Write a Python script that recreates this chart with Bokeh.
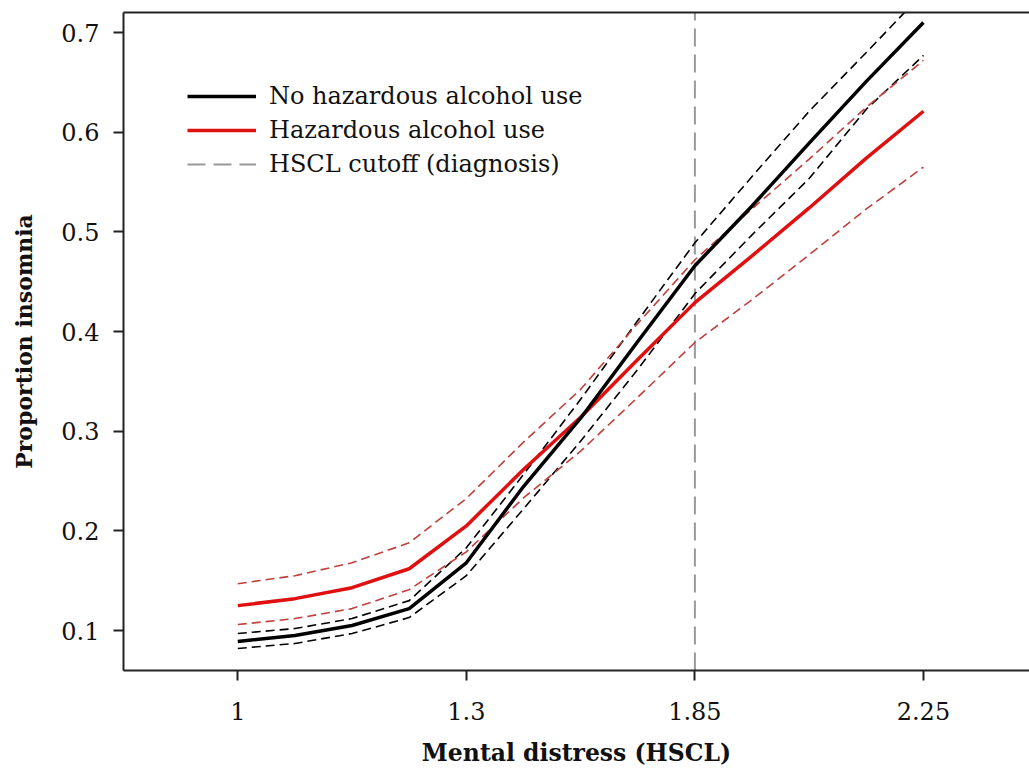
from bokeh.plotting import figure
from bokeh.models import Range1d, LinearAxis, FixedTicker, Legend, LegendItem
from bokeh.embed import file_html
from bokeh.resources import INLINE

# ---- data ----
tick_labels = ["1", "1.3", "1.85", "2.25"]      # HSCL tick labels (equally spaced on axis)
tick_pos = [0, 1, 2, 3]
cutoff_label = "1.85"

x_pos = [0, 0.25, 0.5, 0.75, 1, 1.25, 1.5, 1.75, 2, 2.25, 2.5, 2.75, 3]

no_haz = [0.089, 0.095, 0.105, 0.122, 0.168, 0.2445, 0.313, 0.390, 0.466, 0.526, 0.589, 0.651, 0.710]
no_haz_hi = [0.097, 0.102, 0.112, 0.130, 0.183, 0.2565, 0.332, 0.411, 0.489, 0.5555, 0.621, 0.680, 0.740]
no_haz_lo = [0.082, 0.087, 0.097, 0.113, 0.155, 0.222, 0.290, 0.362, 0.438, 0.497, 0.5535, 0.623, 0.677]

haz = [0.125, 0.132, 0.143, 0.162, 0.205, 0.2615, 0.314, 0.372, 0.429, 0.476, 0.524, 0.574, 0.621]
haz_hi = [0.147, 0.155, 0.168, 0.188, 0.2325, 0.289, 0.342, 0.408, 0.472, 0.523, 0.573, 0.625, 0.672]
haz_lo = [0.106, 0.112, 0.122, 0.141, 0.179, 0.233, 0.280, 0.334, 0.389, 0.432, 0.477, 0.523, 0.565]

FONT = "DejaVu Serif"
Y_LO, Y_HI = 0.0599, 0.7201

p = figure(width=1029, height=776, output_backend="svg", toolbar_location=None,
           x_range=Range1d(-0.5, 3.464), y_range=Range1d(Y_LO, Y_HI),
           min_border_left=123, min_border_right=0, min_border_top=12, min_border_bottom=106,
           x_axis_label="Mental distress (HSCL)", y_axis_label="Proportion insomnia")
p.outline_line_color = None
p.grid.visible = False
p.background_fill_color = "white"
p.border_fill_color = "white"

# axes
for ax in (p.xaxis[0], p.yaxis[0]):
    ax.axis_line_width = 2
    ax.axis_line_color = "#222222"
    ax.major_tick_line_width = 2
    ax.major_tick_line_color = "#222222"
    ax.major_tick_in = 0
    ax.major_tick_out = 10
    ax.minor_tick_line_color = None
    ax.major_label_text_font = FONT
    ax.major_label_text_font_size = "24px"
    ax.major_label_text_color = "#111111"
    ax.axis_label_text_font = FONT
    ax.axis_label_text_font_style = "bold"
    ax.axis_label_text_color = "#111111"

p.xaxis[0].ticker = FixedTicker(ticks=tick_pos)
p.xaxis[0].major_label_overrides = {t: l for t, l in zip(tick_pos, tick_labels)}
p.xaxis[0].major_label_standoff = 21
p.xaxis[0].axis_label_standoff = 16
p.xaxis[0].axis_label_text_font_size = "23.5px"

p.yaxis[0].ticker = FixedTicker(ticks=[0.1, 0.2, 0.3, 0.4, 0.5, 0.6, 0.7])
p.yaxis[0].major_label_standoff = 14
p.yaxis[0].axis_label_standoff = 21
p.yaxis[0].axis_label_text_font_size = "22px"

top_axis = LinearAxis(ticker=FixedTicker(ticks=[]), axis_line_width=2, axis_line_color="#222222",
                      major_tick_line_color=None, minor_tick_line_color=None,
                      major_label_text_font_size="0px")
p.add_layout(top_axis, "above")

# cutoff line
cut_x = tick_pos[tick_labels.index(cutoff_label)]
r_cut = p.segment(x0=[cut_x], y0=[Y_LO], x1=[cut_x], y1=[Y_HI], line_color="#999999",
                  line_width=2, line_dash="18 8")

# CI lines
for arr in (no_haz_hi, no_haz_lo):
    p.line(x_pos, arr, line_color="black", line_width=1.6, line_dash="9 5")
for arr in (haz_hi, haz_lo):
    p.line(x_pos, arr, line_color="#c0403c", line_width=1.6, line_dash="9 5")

r_haz = p.line(x_pos, haz, line_color="#e01010", line_width=3.5)
r_no = p.line(x_pos, no_haz, line_color="black", line_width=3.5)

legend = Legend(items=[LegendItem(label="No hazardous alcohol use", renderers=[r_no]),
                       LegendItem(label="Hazardous alcohol use", renderers=[r_haz]),
                       LegendItem(label="HSCL cutoff (diagnosis)", renderers=[r_cut])],
                location=(64, 492), padding=0, margin=0, spacing=6,
                glyph_width=69, glyph_height=26, label_height=26, label_standoff=13,
                label_text_font=FONT, label_text_font_size="24px", label_text_color="#111111",
                border_line_color=None, background_fill_alpha=0)
p.add_layout(legend, "center")

open("out.html", "w").write(file_html(p, INLINE))
